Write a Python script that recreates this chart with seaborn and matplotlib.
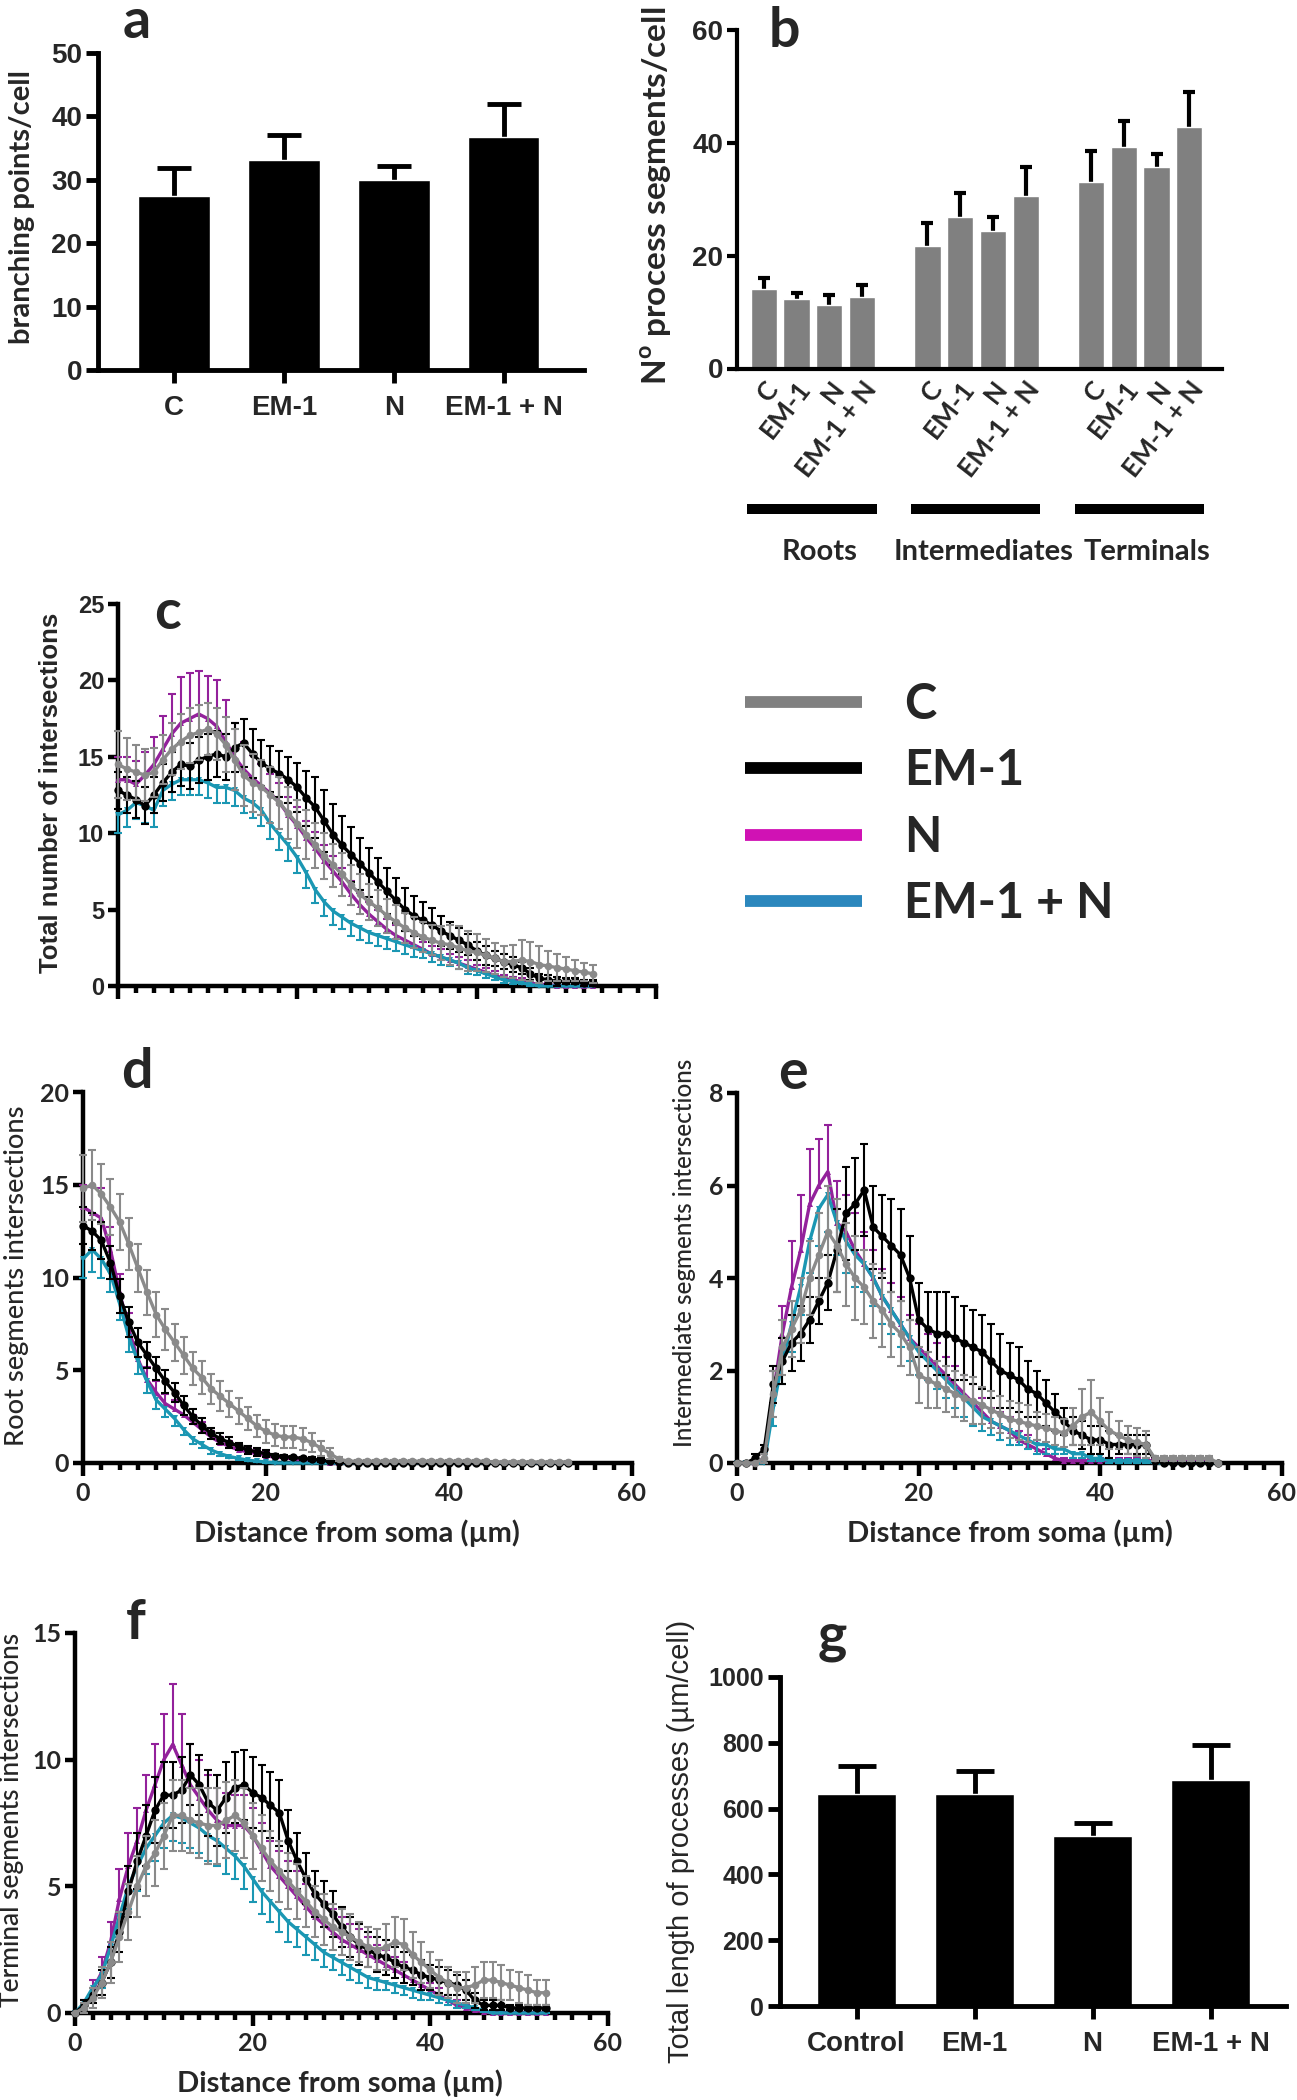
import numpy as np
import pandas as pd
import matplotlib
matplotlib.use('Agg')
import matplotlib.pyplot as plt
import seaborn as sns
from matplotlib.lines import Line2D
from matplotlib.font_manager import FontProperties

# ---------------- data ----------------
groups = ['C', 'EM-1', 'N', 'EM-1 + N']

# a: branching points / cell
branch_mean = [27.4, 33.1, 29.9, 36.7]
branch_sem = [4.4, 4.0, 2.2, 5.3]

# b: process segments / cell (roots, intermediates, terminals)
seg_labels = ['Roots', 'Intermediates', 'Terminals']
seg_pos = [0, 1, 2, 3, 5, 6, 7, 8, 10, 11, 12, 13]
seg_mean = [14.1, 12.3, 11.3, 12.7, 21.6, 26.8, 24.3, 30.5, 33.0, 39.3, 35.7, 42.8]
seg_sem = [2.0, 1.1, 1.7, 2.0, 4.1, 4.3, 2.5, 5.2, 5.5, 4.5, 2.2, 6.2]

# g: total length of processes
length_labels = ['Control', 'EM-1', 'N', 'EM-1 + N']
length_mean = [643, 643, 518, 686]
length_sem = [86, 72, 39, 107]

# Sholl profiles, distance from soma (um)
dist = list(range(54))

tot_C = [14.5, 14.2, 14.0, 13.8, 14.0, 14.8, 15.5, 16.0, 16.4, 16.6,
         16.8, 16.5, 15.8, 14.8, 13.8, 13.3, 13.0, 12.5, 12.0, 11.3,
         10.6, 9.9, 9.2, 8.5, 7.9, 7.3, 6.6, 6.0, 5.5, 5.1,
         4.6, 4.2, 3.8, 3.5, 3.2, 3.0, 2.8, 2.7, 2.5, 2.3,
         2.2, 2.0, 1.8, 1.6, 1.6, 1.7, 1.6, 1.4, 1.3, 1.2,
         1.1, 1.0, 0.9, 0.8]
tot_E = [12.8, 12.5, 12.2, 11.8, 12.5, 13.3, 14.0, 14.5, 14.4, 14.8,
         15.0, 15.2, 15.0, 15.6, 15.9, 15.2, 14.6, 14.2, 13.9, 13.5,
         13.0, 12.3, 11.7, 10.8, 9.9, 9.2, 8.6, 8.0, 7.4, 6.8,
         6.2, 5.6, 5.0, 4.6, 4.3, 4.0, 3.6, 3.3, 3.0, 2.7,
         2.3, 2.0, 1.8, 1.6, 1.4, 1.2, 0.8, 0.5, 0.4, 0.3,
         0.3, 0.3, 0.2, 0.2]
tot_N = [13.5, 13.5, 13.2, 13.8, 14.5, 15.5, 16.5, 17.2, 17.5, 17.8,
         17.5, 17.0, 16.0, 15.0, 14.2, 13.6, 13.1, 12.6, 12.0, 11.2,
         10.5, 9.7, 9.0, 8.2, 7.5, 6.8, 6.0, 5.3, 4.7, 4.2,
         3.7, 3.3, 3.0, 2.7, 2.4, 2.1, 1.9, 1.7, 1.5, 1.3,
         1.1, 0.9, 0.7, 0.5, 0.4, 0.3, 0.2, 0.1, 0.1, 0.0,
         0.0, 0.0, 0.0, 0.0]
tot_EN = [11.2, 11.5, 12.0, 11.8, 11.5, 12.8, 13.2, 13.5, 13.5, 13.5,
          13.3, 13.0, 13.0, 12.8, 12.3, 12.0, 11.5, 10.6, 9.9, 9.2,
          8.4, 7.4, 6.3, 5.5, 4.9, 4.5, 4.1, 3.8, 3.5, 3.3,
          3.1, 2.9, 2.7, 2.5, 2.3, 2.1, 1.9, 1.7, 1.5, 1.2,
          1.0, 0.8, 0.6, 0.4, 0.3, 0.2, 0.1, 0.0, 0.0, 0.0,
          0.0, 0.0, 0.0, 0.0]
tot_C_err = [2.2, 2.0, 1.8, 1.7, 1.6, 1.6, 1.7, 1.8, 1.8, 1.8,
             1.7, 1.7, 1.8, 2.0, 2.0, 1.9, 1.8, 1.8, 1.7, 1.7,
             1.6, 1.6, 1.5, 1.5, 1.4, 1.4, 1.3, 1.3, 1.2, 1.2,
             1.1, 1.1, 1.0, 1.0, 1.0, 1.0, 1.1, 1.3, 1.4, 1.3,
             1.2, 1.1, 1.0, 1.0, 1.1, 1.3, 1.3, 1.2, 1.0, 0.9,
             0.8, 0.7, 0.6, 0.6]
tot_E_err = [1.2, 1.2, 1.2, 1.2, 1.2, 1.2, 1.3, 1.4, 1.5, 1.5,
             1.5, 1.5, 1.5, 1.6, 1.6, 1.6, 1.5, 1.5, 1.5, 1.5,
             1.6, 1.8, 2.0, 2.0, 2.0, 1.9, 1.8, 1.7, 1.6, 1.6,
             1.5, 1.5, 1.4, 1.3, 1.2, 1.1, 1.0, 0.9, 0.8, 0.7,
             0.6, 0.6, 0.5, 0.5, 0.5, 0.4, 0.4, 0.3, 0.3, 0.3,
             0.2, 0.2, 0.2, 0.2]
tot_N_err = [1.5, 1.5, 1.5, 1.5, 1.8, 2.2, 2.6, 3.0, 3.0, 2.8,
             2.8, 3.0, 2.7, 2.2, 1.8, 1.5, 1.4, 1.3, 1.3, 1.2,
             1.2, 1.1, 1.1, 1.0, 1.0, 0.9, 0.9, 0.8, 0.8, 0.8,
             0.7, 0.7, 0.6, 0.6, 0.5, 0.5, 0.5, 0.4, 0.4, 0.4,
             0.3, 0.3, 0.3, 0.2, 0.2, 0.2, 0.1, 0.1, 0.1, 0.0,
             0.0, 0.0, 0.0, 0.0]
tot_EN_err = [1.2, 1.1, 1.1, 1.1, 1.1, 1.0, 1.0, 1.0, 1.0, 1.0,
              1.0, 1.0, 1.0, 1.0, 1.0, 1.0, 1.0, 1.0, 1.0, 1.0,
              1.0, 1.0, 0.9, 0.9, 0.9, 0.8, 0.8, 0.8, 0.7, 0.7,
              0.7, 0.6, 0.6, 0.6, 0.5, 0.5, 0.5, 0.4, 0.4, 0.4,
              0.3, 0.3, 0.2, 0.2, 0.2, 0.1, 0.1, 0.0, 0.0, 0.0,
              0.0, 0.0, 0.0, 0.0]

root_C = [14.8, 15.0, 14.5, 13.8, 13.0, 11.8, 10.5, 9.2, 8.0, 7.2,
          6.5, 5.8, 5.1, 4.6, 4.0, 3.6, 3.2, 2.8, 2.4, 2.0,
          1.7, 1.5, 1.4, 1.4, 1.3, 1.1, 0.8, 0.5, 0.2, 0.1,
          0.1, 0.1, 0.1, 0.1, 0.1, 0.1, 0.1, 0.1, 0.1, 0.1,
          0.1, 0.1, 0.1, 0.1, 0.1, 0.05, 0.05, 0.05, 0.05, 0.05,
          0.05, 0.05, 0.05, 0.05]
root_E = [12.8, 12.5, 12.0, 10.8, 9.0, 7.6, 6.5, 5.8, 5.1, 4.4,
          3.8, 3.1, 2.5, 2.0, 1.6, 1.3, 1.1, 0.9, 0.7, 0.6,
          0.5, 0.4, 0.35, 0.3, 0.25, 0.2, 0.15, 0.1, 0.05, 0.0,
          0.0, 0.0, 0.0, 0.0, 0.0, 0.0, 0.0, 0.0, 0.0, 0.0,
          0.0, 0.0, 0.0, 0.0, 0.0, 0.0, 0.0, 0.0, 0.0, 0.0,
          0.0, 0.0, 0.0, 0.0]
root_N = [13.8, 13.5, 13.2, 11.5, 9.2, 7.2, 5.6, 4.5, 3.8, 3.2,
          2.9, 2.6, 2.2, 1.8, 1.4, 1.1, 0.9, 0.7, 0.6, 0.5,
          0.4, 0.3, 0.3, 0.2, 0.2, 0.1, 0.1, 0.0, 0.0, 0.0,
          0.0, 0.0, 0.0, 0.0, 0.0, 0.0, 0.0, 0.0, 0.0, 0.0,
          0.0, 0.0, 0.0, 0.0, 0.0, 0.0, 0.0, 0.0, 0.0, 0.0,
          0.0, 0.0, 0.0, 0.0]
root_EN = [11.0, 11.5, 11.0, 10.2, 8.6, 6.8, 5.5, 4.4, 3.4, 2.9,
           2.4, 1.8, 1.3, 1.0, 0.7, 0.5, 0.35, 0.25, 0.15, 0.1,
           0.05, 0.0, 0.0, 0.0, 0.0, 0.0, 0.0, 0.0, 0.0, 0.0,
           0.0, 0.0, 0.0, 0.0, 0.0, 0.0, 0.0, 0.0, 0.0, 0.0,
           0.0, 0.0, 0.0, 0.0, 0.0, 0.0, 0.0, 0.0, 0.0, 0.0,
           0.0, 0.0, 0.0, 0.0]
root_C_err = [1.8, 1.9, 1.6, 1.5, 1.5, 1.4, 1.3, 1.2, 1.2, 1.1,
              1.0, 1.0, 0.9, 0.9, 0.8, 0.8, 0.7, 0.7, 0.6, 0.6,
              0.6, 0.6, 0.6, 0.6, 0.6, 0.5, 0.4, 0.3, 0.1, 0.05,
              0.05, 0.05, 0.05, 0.05, 0.05, 0.05, 0.05, 0.05, 0.05, 0.05,
              0.05, 0.05, 0.05, 0.05, 0.05, 0.05, 0.05, 0.05, 0.05, 0.05,
              0.05, 0.05, 0.05, 0.05]
root_E_err = [1.0, 1.0, 1.0, 0.9, 0.9, 0.8, 0.8, 0.7, 0.6, 0.6,
              0.5, 0.5, 0.4, 0.4, 0.3, 0.3, 0.3, 0.2, 0.2, 0.2,
              0.2, 0.1, 0.1, 0.1, 0.1, 0.1, 0.1, 0.05, 0.05, 0.0,
              0.0, 0.0, 0.0, 0.0, 0.0, 0.0, 0.0, 0.0, 0.0, 0.0,
              0.0, 0.0, 0.0, 0.0, 0.0, 0.0, 0.0, 0.0, 0.0, 0.0,
              0.0, 0.0, 0.0, 0.0]
root_N_err = [1.2, 1.4, 1.6, 1.2, 1.0, 0.9, 0.8, 0.7, 0.6, 0.5,
              0.5, 0.5, 0.4, 0.4, 0.3, 0.3, 0.3, 0.2, 0.2, 0.2,
              0.2, 0.2, 0.1, 0.1, 0.1, 0.05, 0.05, 0.0, 0.0, 0.0,
              0.0, 0.0, 0.0, 0.0, 0.0, 0.0, 0.0, 0.0, 0.0, 0.0,
              0.0, 0.0, 0.0, 0.0, 0.0, 0.0, 0.0, 0.0, 0.0, 0.0,
              0.0, 0.0, 0.0, 0.0]
root_EN_err = [1.0, 1.2, 1.0, 1.0, 0.9, 0.8, 0.7, 0.6, 0.5, 0.4,
               0.4, 0.3, 0.3, 0.2, 0.2, 0.1, 0.1, 0.1, 0.05, 0.05,
               0.05, 0.0, 0.0, 0.0, 0.0, 0.0, 0.0, 0.0, 0.0, 0.0,
               0.0, 0.0, 0.0, 0.0, 0.0, 0.0, 0.0, 0.0, 0.0, 0.0,
               0.0, 0.0, 0.0, 0.0, 0.0, 0.0, 0.0, 0.0, 0.0, 0.0,
               0.0, 0.0, 0.0, 0.0]

int_C = [0.0, 0.0, 0.0, 0.1, 1.5, 2.5, 2.9, 3.3, 4.0, 4.5,
         5.0, 4.7, 4.3, 4.0, 3.8, 3.5, 3.3, 3.0, 2.8, 2.5,
         1.9, 1.8, 1.7, 1.6, 1.5, 1.4, 1.35, 1.25, 1.15, 1.05,
         0.95, 0.9, 0.85, 0.8, 0.75, 0.7, 0.65, 0.8, 1.0, 1.1,
         0.9, 0.7, 0.6, 0.5, 0.45, 0.4, 0.1, 0.1, 0.1, 0.1,
         0.1, 0.1, 0.1, 0.0]
int_E = [0.0, 0.0, 0.1, 0.3, 1.7, 2.2, 2.6, 2.8, 3.1, 3.5,
         3.9, 4.6, 5.4, 5.6, 5.9, 5.1, 4.9, 4.7, 4.5, 4.0,
         3.1, 2.9, 2.8, 2.8, 2.7, 2.6, 2.5, 2.4, 2.2, 2.0,
         1.9, 1.8, 1.6, 1.5, 1.3, 1.1, 0.9, 0.7, 0.6, 0.5,
         0.5, 0.4, 0.4, 0.4, 0.4, 0.4, 0.05, 0.0, 0.0, 0.0,
         0.0, 0.0, 0.0, 0.0]
int_N = [0.0, 0.0, 0.0, 0.1, 1.5, 2.8, 3.8, 4.6, 5.6, 6.0,
         6.3, 5.2, 5.0, 4.6, 4.3, 4.0, 3.6, 3.3, 3.0, 2.7,
         2.5, 2.3, 2.1, 1.9, 1.7, 1.5, 1.3, 1.1, 0.9, 0.8,
         0.7, 0.5, 0.4, 0.3, 0.2, 0.1, 0.05, 0.05, 0.05, 0.05,
         0.05, 0.05, 0.05, 0.05, 0.05, 0.05, 0.05, 0.05, 0.05, 0.05,
         0.05, 0.05, 0.05, 0.0]
int_EN = [0.0, 0.0, 0.0, 0.0, 1.2, 2.2, 3.0, 3.8, 4.8, 5.5,
          5.8, 5.2, 4.8, 4.5, 4.3, 4.0, 3.6, 3.3, 3.0, 2.7,
          2.4, 2.2, 2.0, 1.8, 1.6, 1.4, 1.2, 1.0, 0.9, 0.8,
          0.7, 0.6, 0.5, 0.4, 0.4, 0.3, 0.3, 0.2, 0.2, 0.1,
          0.1, 0.05, 0.05, 0.05, 0.05, 0.05, 0.0, 0.0, 0.0, 0.0,
          0.0, 0.0, 0.0, 0.0]
int_C_err = [0.0, 0.0, 0.0, 0.1, 0.5, 0.6, 0.6, 0.7, 0.8, 0.9,
             1.0, 1.0, 0.9, 0.9, 0.8, 0.8, 0.8, 0.7, 0.7, 0.6,
             0.6, 0.6, 0.5, 0.5, 0.5, 0.5, 0.5, 0.4, 0.4, 0.4,
             0.4, 0.4, 0.4, 0.3, 0.3, 0.3, 0.3, 0.4, 0.6, 0.7,
             0.5, 0.4, 0.3, 0.3, 0.3, 0.3, 0.05, 0.05, 0.05, 0.05,
             0.05, 0.05, 0.05, 0.0]
int_E_err = [0.0, 0.0, 0.1, 0.1, 0.4, 0.5, 0.6, 0.6, 0.5, 0.5,
             0.6, 0.9, 1.0, 1.0, 1.0, 0.9, 0.9, 1.0, 1.0, 0.9,
             0.8, 0.8, 0.9, 0.9, 0.9, 0.8, 0.8, 0.8, 0.8, 0.8,
             0.7, 0.7, 0.6, 0.5, 0.5, 0.4, 0.3, 0.3, 0.3, 0.3,
             0.3, 0.3, 0.2, 0.2, 0.2, 0.2, 0.0, 0.0, 0.0, 0.0,
             0.0, 0.0, 0.0, 0.0]
int_N_err = [0.0, 0.0, 0.0, 0.1, 0.5, 0.6, 1.0, 1.2, 1.2, 1.0,
             1.0, 0.9, 0.8, 0.8, 0.7, 0.6, 0.6, 0.6, 0.6, 0.5,
             0.5, 0.5, 0.5, 0.4, 0.4, 0.4, 0.4, 0.3, 0.3, 0.3,
             0.3, 0.2, 0.2, 0.2, 0.1, 0.1, 0.05, 0.05, 0.05, 0.05,
             0.05, 0.05, 0.05, 0.05, 0.05, 0.05, 0.05, 0.05, 0.05, 0.05,
             0.05, 0.05, 0.05, 0.0]
int_EN_err = [0.0, 0.0, 0.0, 0.0, 0.4, 0.5, 0.6, 0.6, 0.7, 0.8,
              0.8, 0.7, 0.7, 0.7, 0.6, 0.6, 0.6, 0.5, 0.5, 0.5,
              0.5, 0.4, 0.4, 0.4, 0.4, 0.4, 0.4, 0.3, 0.3, 0.3,
              0.3, 0.2, 0.2, 0.2, 0.2, 0.1, 0.1, 0.1, 0.1, 0.05,
              0.05, 0.05, 0.05, 0.05, 0.05, 0.05, 0.0, 0.0, 0.0, 0.0,
              0.0, 0.0, 0.0, 0.0]

ter_C = [0.0, 0.2, 0.6, 1.2, 2.0, 3.0, 4.0, 5.0, 5.8, 6.3,
         7.0, 7.8, 7.8, 7.6, 7.5, 7.4, 7.4, 7.6, 7.8, 7.5,
         7.0, 6.5, 6.0, 5.6, 5.2, 4.8, 4.4, 4.0, 3.7, 3.4,
         3.2, 3.0, 2.8, 2.6, 2.5, 2.6, 2.8, 2.7, 2.3, 2.0,
         1.7, 1.4, 1.2, 1.0, 1.0, 1.1, 1.3, 1.3, 1.2, 1.1,
         1.0, 0.9, 0.8, 0.8]
ter_E = [0.0, 0.3, 0.7, 1.2, 2.0, 3.2, 4.8, 6.0, 7.0, 8.0,
         8.6, 8.6, 8.8, 9.4, 9.0, 8.3, 8.0, 8.5, 8.9, 9.0,
         8.7, 8.5, 8.2, 7.9, 6.8, 6.0, 5.3, 4.7, 4.3, 3.9,
         3.4, 3.0, 2.7, 2.5, 2.3, 2.2, 2.0, 1.8, 1.7, 1.5,
         1.4, 1.3, 1.2, 1.1, 0.9, 0.5, 0.3, 0.3, 0.3, 0.2,
         0.2, 0.2, 0.2, 0.2]
ter_N = [0.0, 0.3, 0.9, 1.6, 2.8, 4.5, 5.8, 6.8, 8.0, 9.0,
         10.0, 10.6, 9.8, 9.0, 8.5, 8.0, 7.6, 7.4, 7.4, 7.4,
         7.0, 6.4, 5.8, 5.4, 5.0, 4.6, 4.2, 3.8, 3.5, 3.2,
         2.9, 2.7, 2.5, 2.3, 2.1, 1.9, 1.7, 1.5, 1.3, 1.1,
         0.9, 0.7, 0.5, 0.3, 0.2, 0.1, 0.05, 0.0, 0.0, 0.0,
         0.0, 0.0, 0.0, 0.0]
ter_EN = [0.0, 0.4, 1.0, 1.5, 2.6, 3.8, 5.0, 5.8, 6.5, 7.0,
          7.5, 7.8, 7.7, 7.5, 7.3, 7.0, 6.8, 6.5, 6.2, 5.8,
          5.3, 4.8, 4.4, 4.0, 3.6, 3.3, 3.0, 2.7, 2.4, 2.2,
          2.0, 1.8, 1.6, 1.4, 1.3, 1.2, 1.1, 1.0, 0.9, 0.8,
          0.7, 0.6, 0.5, 0.4, 0.3, 0.2, 0.1, 0.0, 0.0, 0.0,
          0.0, 0.0, 0.0, 0.0]
ter_C_err = [0.0, 0.2, 0.4, 0.6, 0.8, 1.0, 1.1, 1.2, 1.2, 1.3,
             1.3, 1.4, 1.4, 1.3, 1.4, 1.5, 1.5, 1.5, 1.4, 1.4,
             1.3, 1.3, 1.2, 1.2, 1.1, 1.1, 1.0, 1.0, 1.0, 0.9,
             0.9, 0.9, 0.8, 0.8, 0.8, 0.9, 1.0, 1.0, 0.9, 0.8,
             0.7, 0.7, 0.6, 0.6, 0.6, 0.7, 0.7, 0.7, 0.7, 0.6,
             0.6, 0.6, 0.5, 0.5]
ter_E_err = [0.0, 0.2, 0.3, 0.5, 0.6, 0.8, 1.0, 1.1, 1.2, 1.3,
             1.3, 1.3, 1.3, 1.2, 1.2, 1.3, 1.4, 1.4, 1.4, 1.4,
             1.4, 1.3, 1.3, 1.3, 1.2, 1.1, 1.0, 0.9, 0.9, 0.9,
             0.8, 0.8, 0.8, 0.7, 0.7, 0.7, 0.6, 0.6, 0.6, 0.6,
             0.5, 0.5, 0.5, 0.4, 0.4, 0.3, 0.2, 0.2, 0.2, 0.1,
             0.1, 0.1, 0.1, 0.1]
ter_N_err = [0.0, 0.2, 0.4, 0.6, 0.8, 1.2, 1.3, 1.3, 1.4, 1.6,
             1.8, 2.4, 2.0, 1.6, 1.5, 1.4, 1.3, 1.3, 1.2, 1.2,
             1.1, 1.1, 1.0, 1.0, 1.0, 1.0, 0.9, 0.9, 0.9, 0.9,
             0.9, 0.8, 0.8, 0.7, 0.6, 0.6, 0.5, 0.5, 0.4, 0.4,
             0.3, 0.3, 0.2, 0.2, 0.1, 0.1, 0.05, 0.0, 0.0, 0.0,
             0.0, 0.0, 0.0, 0.0]
ter_EN_err = [0.0, 0.2, 0.3, 0.5, 0.6, 0.8, 0.9, 1.0, 1.0, 1.0,
              1.0, 1.0, 1.0, 1.0, 1.0, 1.0, 1.0, 1.0, 0.9, 0.9,
              0.9, 0.9, 0.8, 0.8, 0.8, 0.7, 0.7, 0.6, 0.6, 0.5,
              0.5, 0.5, 0.4, 0.4, 0.4, 0.3, 0.3, 0.3, 0.3, 0.3,
              0.2, 0.2, 0.2, 0.2, 0.1, 0.1, 0.05, 0.0, 0.0, 0.0,
              0.0, 0.0, 0.0, 0.0]

# ---------------- styling ----------------
line_colors = {'C': '#8a8a8a', 'EM-1': '#000000', 'N': '#93219b', 'EM-1 + N': '#1b97b3'}
legend_colors = {'C': '#808080', 'EM-1': '#000000', 'N': '#d012b4', 'EM-1 + N': '#2b87bd'}
markers = {'C': 'o', 'EM-1': 'o', 'N': '^', 'EM-1 + N': 'v'}
marker_size = {'C': 5.5, 'EM-1': 6.0, 'N': 5.0, 'EM-1 + N': 5.0}
err_side = {'C': 'both', 'EM-1': 'both', 'N': 'up', 'EM-1 + N': 'down'}
draw_order = ['N', 'EM-1 + N', 'EM-1', 'C']

sns.set_theme(style='ticks')
ARIAL = ['Liberation Sans', 'DejaVu Sans']
HUMAN = ['Lato', 'DejaVu Sans']
plt.rcParams['font.family'] = HUMAN
plt.rcParams['mathtext.fontset'] = 'custom'
plt.rcParams['mathtext.rm'] = 'Lato'
plt.rcParams['mathtext.bf'] = 'Lato:bold'

W, H = 1297, 2100
fig = plt.figure(figsize=(W / 100, H / 100), dpi=100)


def add_ax(left, top, right, bottom):
    return fig.add_axes([left / W, 1 - bottom / H, (right - left) / W, (bottom - top) / H])


def base_style(ax, lw):
    for s in ['top', 'right']:
        ax.spines[s].set_visible(False)
    for s in ['left', 'bottom']:
        ax.spines[s].set_linewidth(lw)
        ax.spines[s].set_color('black')
    ax.tick_params(which='both', width=lw, direction='out', color='black')
    ax.set_xlabel('')
    ax.set_ylabel('')
    ax.set_facecolor('none')


def font_ticks(labels, family, size, weight='bold'):
    for lbl in labels:
        lbl.set_fontfamily(family)
        lbl.set_fontsize(size)
        lbl.set_fontweight(weight)


def label(x, y, s, size, family=HUMAN, weight='bold', rot=0, **kw):
    fig.text(x / W, 1 - y / H, s, fontsize=size, fontfamily=family, fontweight=weight,
             rotation=rot, ha=kw.pop('ha', 'center'), va=kw.pop('va', 'center'), **kw)


def one_sided(ax, x, y, lo, hi, color, lw, capsize, zorder):
    # errorbar draws a cap at both ends; hide the cap on the side with no bar
    _, caps, _ = ax.errorbar(x, y, yerr=[lo, hi], fmt='none', ecolor=color, elinewidth=lw,
                             capsize=capsize, capthick=lw, zorder=zorder, clip_on=False)
    if not np.any(lo):
        caps[0].set_visible(False)
    if not np.any(hi):
        caps[1].set_visible(False)


def bar_errors(ax, x, mean, sem, capsize, lw):
    for p in ax.patches:
        p.set_zorder(2)
    one_sided(ax, x, mean, np.zeros(len(sem)), np.array(sem), 'black', lw, capsize, 1)


def sholl_panel(ax, means, errs, ymax, ystep, show_xlabels=True):
    for i, g in enumerate(draw_order):
        m = np.array(means[g])
        e = np.array(errs[g])
        zero = np.zeros(len(e))
        lo = zero if err_side[g] == 'up' else e
        hi = zero if err_side[g] == 'down' else e
        one_sided(ax, dist, m, lo, hi, line_colors[g], 1.5, 2.6, 3 + i)
        sns.lineplot(x=dist, y=m, color=line_colors[g], marker=markers[g],
                     markersize=marker_size[g], markeredgewidth=0, linewidth=2.4, ax=ax,
                     zorder=3.5 + i, clip_on=False, sort=False, errorbar=None)
    base_style(ax, 3.2)
    ax.set_xlim(0, 60)
    ax.set_ylim(0, ymax)
    ax.set_yticks(np.arange(0, ymax + 0.01, ystep))
    ax.set_xticks([0, 20, 40, 60])
    ax.set_xticks(np.arange(0, 61, 2), minor=True)
    ax.tick_params(axis='x', which='major', length=9, pad=5)
    ax.tick_params(axis='x', which='minor', length=5)
    ax.tick_params(axis='y', length=7, pad=3)
    if not show_xlabels:
        ax.set_xticklabels([])


# ---------------- a ----------------
ax_a = add_ax(98, 53, 584, 370)
sns.barplot(x=groups, y=branch_mean, color='black', saturation=1, width=0.65,
            errorbar=None, ax=ax_a)
bar_errors(ax_a, range(4), branch_mean, branch_sem, 12.5, 3.5)
base_style(ax_a, 3.5)
ax_a.set_xlim(-0.69, 3.73)
ax_a.set_ylim(0, 50)
ax_a.set_yticks(range(0, 51, 10))
ax_a.tick_params(axis='x', length=9, pad=9)
ax_a.tick_params(axis='y', length=8.5, pad=3)
font_ticks(ax_a.get_yticklabels() + ax_a.get_xticklabels(), ARIAL, 20)
label(22, 207, 'branching points/cell', 21, rot=90)
label(137, 22, 'a', 40)

# ---------------- b ----------------
ax_b = add_ax(737, 29.6, 1222, 368.5)
sns.barplot(x=seg_pos, y=seg_mean, native_scale=True, color='#808080', saturation=1,
            width=0.8, errorbar=None, ax=ax_b)
bar_errors(ax_b, seg_pos, seg_mean, seg_sem, 4.3, 3)
base_style(ax_b, 3)
ax_b.set_xlim(-0.82, 14.0)
ax_b.set_ylim(0, 60)
ax_b.set_yticks([0, 20, 40, 60])
ax_b.set_xticks(seg_pos, labels=groups * 3)
ax_b.tick_params(axis='x', length=0, pad=6)
ax_b.tick_params(axis='y', length=7, pad=3)
font_ticks(ax_b.get_yticklabels(), ARIAL, 20)
font_ticks(ax_b.get_xticklabels(), HUMAN, 19)
for lbl in ax_b.get_xticklabels():
    lbl.set_rotation(52)
    lbl.set_ha('right')
    lbl.set_va('top')
    lbl.set_rotation_mode('anchor')
for k, name in enumerate(seg_labels):
    first, last = seg_pos[4 * k], seg_pos[4 * k + 3]
    ax_b.plot([first - 0.5, last + 0.45], [-0.414, -0.414], color='black', lw=7.2,
              solid_capstyle='butt', transform=ax_b.get_xaxis_transform(), clip_on=False)
    ax_b.text((first + last) / 2 + 0.2, -0.541, name, transform=ax_b.get_xaxis_transform(),
              ha='center', va='center', fontsize=21, fontweight='bold', fontfamily=HUMAN)
label(657, 385, r'N$^{\mathbf{o}}$ process segments/cell', 24, rot=90, va='bottom')
label(784, 31, 'b', 40)

# ---------------- c ----------------
ax_c = add_ax(118, 604, 656, 986)
sholl_panel(ax_c, {'C': tot_C, 'EM-1': tot_E, 'N': tot_N, 'EM-1 + N': tot_EN},
            {'C': tot_C_err, 'EM-1': tot_E_err, 'N': tot_N_err, 'EM-1 + N': tot_EN_err},
            25, 5, show_xlabels=False)
font_ticks(ax_c.get_yticklabels(), ARIAL, 17)
label(51, 793, 'Total number of intersections', 18.5, family=ARIAL, rot=90)
label(167, 613, 'c', 40)

# legend
handles = [Line2D([], [], color=legend_colors[g], lw=8.5, solid_capstyle='butt') for g in groups]
fig.legend(handles, groups, loc='upper left', bbox_to_anchor=(745 / W, 1 - 682 / H),
           frameon=False, prop=FontProperties(family=HUMAN, size=35, weight='bold'),
           handlelength=2.41, handletextpad=0.86, labelspacing=0.44, borderaxespad=0, borderpad=0)

# ---------------- d ----------------
ax_d = add_ax(83, 1092, 632, 1463)
sholl_panel(ax_d, {'C': root_C, 'EM-1': root_E, 'N': root_N, 'EM-1 + N': root_EN},
            {'C': root_C_err, 'EM-1': root_E_err, 'N': root_N_err, 'EM-1 + N': root_EN_err},
            20, 5)
font_ticks(ax_d.get_yticklabels() + ax_d.get_xticklabels(), HUMAN, 18)
label(17, 1276, 'Root segments intersections', 19.5, weight='medium', rot=90)
label(357, 1533, 'Distance from soma (µm)', 21)
label(137, 1072, 'd', 40)

# ---------------- e ----------------
ax_e = add_ax(737, 1093, 1282, 1463)
sholl_panel(ax_e, {'C': int_C, 'EM-1': int_E, 'N': int_N, 'EM-1 + N': int_EN},
            {'C': int_C_err, 'EM-1': int_E_err, 'N': int_N_err, 'EM-1 + N': int_EN_err},
            8, 2)
font_ticks(ax_e.get_yticklabels() + ax_e.get_xticklabels(), HUMAN, 18)
label(685, 1253, 'Intermediate segments intersections', 17.4, weight='medium', rot=90)
label(1010, 1533, 'Distance from soma (µm)', 21)
label(793, 1073, 'e', 40)

# ---------------- f ----------------
ax_f = add_ax(75, 1633, 608, 2013)
sholl_panel(ax_f, {'C': ter_C, 'EM-1': ter_E, 'N': ter_N, 'EM-1 + N': ter_EN},
            {'C': ter_C_err, 'EM-1': ter_E_err, 'N': ter_N_err, 'EM-1 + N': ter_EN_err},
            15, 5)
font_ticks(ax_f.get_yticklabels() + ax_f.get_xticklabels(), HUMAN, 18)
label(12, 1820, 'Terminal segments intersections', 19, weight='medium', rot=90)
label(340, 2083, 'Distance from soma (µm)', 21)
label(136, 1623, 'f', 40)

# ---------------- g ----------------
ax_g = add_ax(780, 1677, 1286, 2006)
sns.barplot(x=length_labels, y=length_mean, color='black', saturation=1, width=0.665,
            errorbar=None, ax=ax_g)
bar_errors(ax_g, range(4), length_mean, length_sem, 13.4, 3.5)
base_style(ax_g, 3.5)
ax_g.set_xlim(-0.65, 3.64)
ax_g.set_ylim(0, 1000)
ax_g.set_yticks(range(0, 1001, 200))
ax_g.tick_params(axis='x', length=9, pad=9)
ax_g.tick_params(axis='y', length=8.5, pad=3)
font_ticks(ax_g.get_yticklabels(), ARIAL, 18)
font_ticks(ax_g.get_xticklabels(), ARIAL, 20)
label(681, 1841, 'Total length of processes (µm/cell)', 21, family=ARIAL, weight='normal', rot=90)
label(832, 1637, 'g', 40)

fig.savefig('out.png', dpi=100, facecolor='white')
